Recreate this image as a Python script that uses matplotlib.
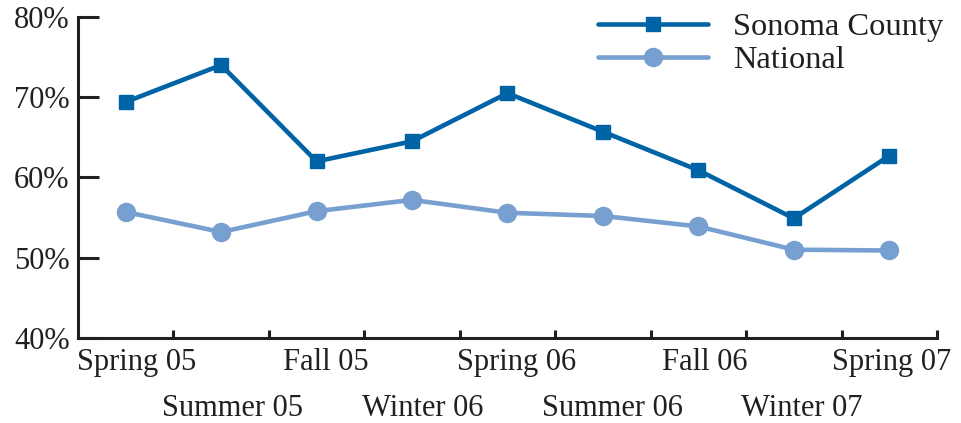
import matplotlib
matplotlib.use("Agg")
import matplotlib.pyplot as plt
from matplotlib.ticker import FixedLocator, PercentFormatter
from matplotlib.transforms import ScaledTranslation

categories = ["Spring 05", "Summer 05", "Fall 05", "Winter 06", "Spring 06",
              "Summer 06", "Fall 06", "Winter 07", "Spring 07"]
sonoma = [69.4, 74.0, 62.0, 64.5, 70.5, 65.7, 60.9, 54.9, 62.7]
national = [55.7, 53.2, 55.8, 57.2, 55.6, 55.2, 53.9, 51.0, 50.9]
y_ticks = [40, 50, 60, 70, 80]

plt.rcParams['font.family'] = ['Liberation Serif', 'DejaVu Serif']
text_color = '#231f20'
fs = 22

fig = plt.figure(figsize=(9.62, 4.23), dpi=100)
ax = fig.add_axes([0.081, 0.201, 0.893, 0.759])

x = list(range(len(categories)))
ax.plot(x, sonoma, color='#0063a6', lw=3.3, marker='s', markersize=10,
        label='Sonoma County', solid_capstyle='round')
ax.plot(x, national, color='#779fcf', lw=3.3, marker='o', markersize=13,
        label='National', solid_capstyle='round')

ax.set_xlim(-0.5, len(categories) - 0.5)
ax.set_ylim(40, 80)

for s in ['top', 'right']:
    ax.spines[s].set_visible(False)
for s in ['left', 'bottom']:
    ax.spines[s].set_linewidth(2.2)
    ax.spines[s].set_color(text_color)

ax.set_yticks(y_ticks)
ax.yaxis.set_major_formatter(PercentFormatter(decimals=0))
ax.tick_params(axis='y', direction='in', length=15, width=2.2, color=text_color,
               labelsize=fs, labelcolor=text_color, pad=6)

ax.set_xticks(x)
ax.set_xticklabels(categories)
ax.xaxis.set_minor_locator(FixedLocator([i + 0.5 for i in x]))
ax.tick_params(axis='x', which='major', length=0, labelsize=fs,
               labelcolor=text_color, pad=7)
ax.tick_params(axis='x', which='minor', direction='in', length=6, width=2.2,
               color=text_color)
label_shift_px = [11, 11, 9, 11, 9, 10, 6, 8, 2]
for i, t in enumerate(ax.xaxis.get_major_ticks()):
    if i % 2 == 1:
        t.set_pad(40)
for lab, dx in zip(ax.get_xticklabels(), label_shift_px):
    lab.set_transform(lab.get_transform() +
                      ScaledTranslation(dx / 100, 0, fig.dpi_scale_trans))

leg = ax.legend(loc='upper right', bbox_to_anchor=(1.022, 1.055), frameon=False,
                fontsize=23.4, handlelength=3.4, handletextpad=0.75,
                labelspacing=0.1, borderaxespad=0)
for t in leg.get_texts():
    t.set_color(text_color)

fig.savefig('out.png', dpi=100)
